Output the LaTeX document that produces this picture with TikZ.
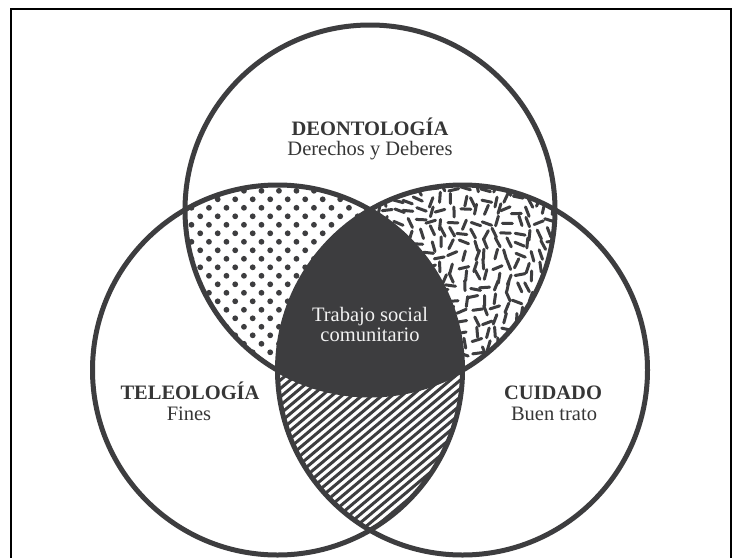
\documentclass[tikz,border=0pt]{standalone}
\usepackage{fontspec}
\setmainfont{Liberation Serif}
\definecolor{ink}{HTML}{3D3D3F}
\definecolor{txt}{HTML}{363636}
\begin{document}
\begin{tikzpicture}[x=1pt,y=-1pt,
  ring/.style={draw=ink,line width=5pt},
  lbl/.style={inner sep=0pt,anchor=base,text=txt,font=\fontsize{20.5}{22}\selectfont},
  lblb/.style={inner sep=0pt,anchor=base,text=txt,font=\fontsize{20.5}{22}\selectfont\bfseries},
  lblw/.style={inner sep=0pt,anchor=base,text=white!95!black,font=\fontsize{20.5}{22}\selectfont}]
\useasboundingbox (0,0) rectangle (738,557);
\fill[white] (0,0) rectangle (738,557);
\coordinate (T) at (370,210);
\coordinate (L) at (277.5,370);
\coordinate (R) at (462.5,370);
\def\rr{185}
% frame
\draw[black,line width=2pt] (11,560) -- (11,9) -- (731,9) -- (731,560);
% dots: top & left
\begin{scope}
\clip (T) circle[radius=\rr];
\clip (L) circle[radius=\rr];
\foreach \j in {0,...,24}{
  \foreach \i in {0,...,12}{
    \fill[ink] ({182.7+17.5*\i+8.75*mod(\j,2)},{182.3+8.5*\j}) circle[radius=2.9];
  }
}
\end{scope}
% dashes: top & right
\begin{scope}
\clip (T) circle[radius=\rr];
\clip (R) circle[radius=\rr];
\pgfmathsetseed{4242}
\foreach \j in {0,...,18}{
  \foreach \i in {0,...,18}{
    \pgfmathsetmacro\px{365+11*\i+3*rand}
    \pgfmathsetmacro\py{178+11*\j+3*rand}
    \pgfmathsetmacro\sel{rnd}
    \pgfmathsetmacro\ang{\sel<0.65 ? 60+60*rnd : -25+50*rnd}
    \draw[ink,line width=3pt,line cap=round] (\px,\py) ++(\ang:5) -- ++(\ang:-10);
  }
}
\end{scope}
% stripes: left & right
\begin{scope}
\clip (L) circle[radius=\rr];
\clip (R) circle[radius=\rr];
\foreach \k in {0,...,60}{
  \draw[ink,line width=3pt] ({-60+10*\k},565) -- ++(-40:420);
}
\end{scope}
% center
\begin{scope}
\clip (T) circle[radius=\rr];
\clip (L) circle[radius=\rr];
\fill[ink] (R) circle[radius=\rr];
\end{scope}
% circles
\draw[ring] (T) circle[radius=\rr];
\draw[ring] (L) circle[radius=\rr];
\draw[ring] (R) circle[radius=\rr];
% labels
\node[lblb] (deo) at (370,135.2) {DEONTOLOGÍA};
\node[lbl] (deos) at (370,155.8) {Derechos y Deberes};
\node[lblb] (tel) at (190,399.5) {TELEOLOGÍA};
\node[lbl] (tels) at (189,420) {Fines};
\node[lblb] (cui) at (553,399.5) {CUIDADO};
\node[lbl] (cuis) at (554,420) {Buen trato};
\node[lblw] (tsc1) at (370,321.5) {Trabajo social};
\node[lblw] (tsc2) at (370,341.5) {comunitario};
\end{tikzpicture}
\end{document}
